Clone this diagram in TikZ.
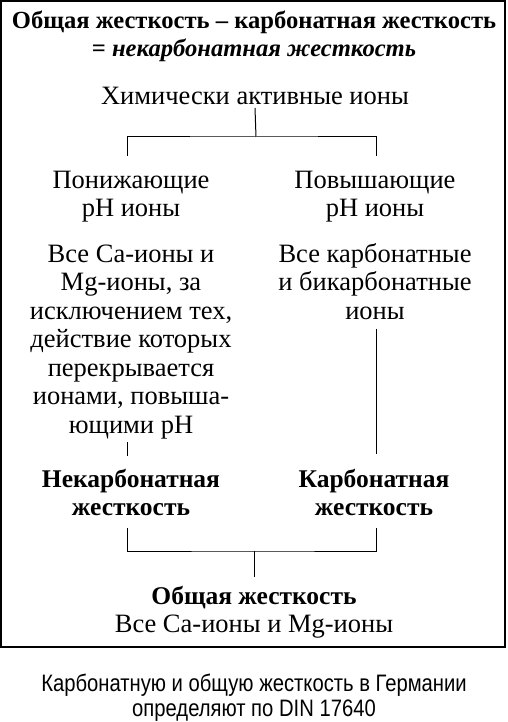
\documentclass[tikz,border=0pt]{standalone}
\usepackage{fontspec}
\setmainfont{Liberation Serif}
\newfontfamily\capfont[FakeStretch=0.85]{Liberation Sans}
\usetikzlibrary{positioning, calc}
\tikzset{
	txt/.style    ={align=center, inner sep=0pt, font=\fontsize{26.5}{28.5}\selectfont},
	btxt/.style   ={txt, font=\fontsize{25.5}{28.5}\selectfont\bfseries},
	ttxt/.style   ={txt, font=\fontsize{24.6}{28}\selectfont\bfseries},
	captxt/.style ={align=center, inner sep=0pt, font=\capfont\fontsize{23.8}{25}\selectfont},
	wire/.style   ={line width=1pt},
	frame/.style  ={line width=2pt},
}
\begin{document}
\begin{tikzpicture}[x=1pt, y=-1pt]
	\useasboundingbox (0,0) rectangle (508,722);
	\draw[frame] (1,1) rectangle (505,647);
	% title
	\node[ttxt] (title) at (254,36) {Общая жесткость -- карбонатная жесткость\\= \textit{некарбонатная жесткость}};
	\node[txt] (active) at (255,96) {Химически активные ионы};
	% columns
	\coordinate (colL) at (127,0);
	\coordinate (colR) at (376,0);
	\coordinate (split) at (256,137);
	\node[txt] (lowhead) at (131,196.5) {Понижающие\\pH ионы};
	\node[txt] (highhead) at (375,196.5) {Повышающие\\pH ионы};
	\node[txt] (lowpara) at (131,342) {Все Ca-ионы и\\Mg-ионы, за\\исключением тех,\\действие которых\\перекрывается\\ионами, повыша-\\ющими pH};
	\node[txt] (highpara) at (375,281.5) {Все карбонатные\\и бикарбонатные\\ионы};
	\node[btxt] (lowcarb) at (131,492.5) {Некарбонатная\\жесткость};
	\node[btxt] (highcarb) at (374,492.5) {Карбонатная\\жесткость};
	\coordinate (join) at (254,551);
	\node[txt] (total) at (254,612) {\fontsize{25.5}{28.5}\selectfont\textbf{Общая жесткость}\\Все Ca-ионы и Mg-ионы};
	\node[captxt] (cap) at (254,697.5) {Карбонатную и общую жесткость в Германии\\определяют по DIN 17640};
	% connectors
	\draw[wire] ([yshift=-3pt]active.south) -- (split);
	\draw[wire] ([yshift=15pt]colL |- lowhead.north) |- (split) -| ([yshift=15pt]colR |- highhead.north);
	\draw[wire] ([yshift=-3pt]colL |- lowpara.south) -- ([yshift=13pt]colL |- lowcarb.north);
	\draw[wire] ([yshift=-9pt]colR |- highpara.south) -- ([yshift=15pt]colR |- highcarb.north);
	\draw[wire] ([yshift=-12pt]colL |- lowcarb.south) |- (join) -| ([yshift=-12pt]colR |- highcarb.south);
	\draw[wire] (join) -- ([yshift=9pt]total.north);
\end{tikzpicture}
\end{document}
